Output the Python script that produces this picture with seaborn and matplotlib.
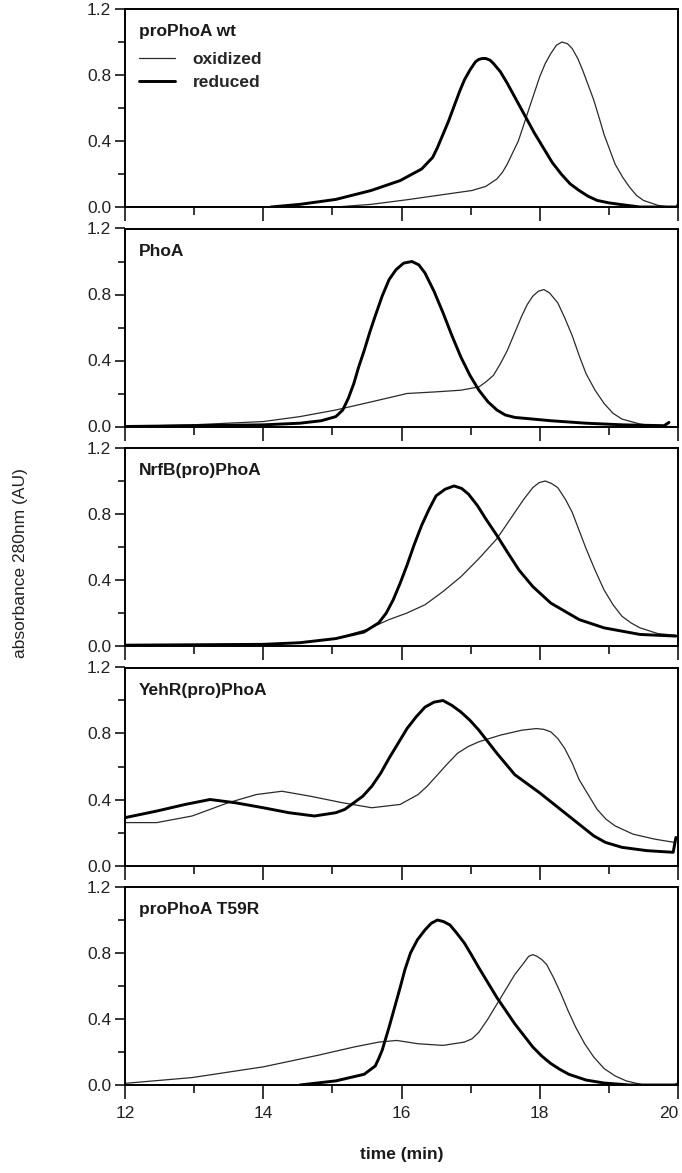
import numpy as np
import pandas as pd
import matplotlib
matplotlib.use("Agg")
import matplotlib.pyplot as plt
import seaborn as sns
from matplotlib.ticker import MultipleLocator, FormatStrFormatter
from matplotlib.lines import Line2D

sns.set_style("ticks")
plt.rcParams['font.family'] = ['Liberation Sans', 'DejaVu Sans']

panel_names = ["proPhoA wt", "PhoA", "NrfB(pro)PhoA", "YehR(pro)PhoA", "proPhoA T59R"]
x_ticks = [12, 14, 16, 18, 20]
x_tick_labels = ["12", "14", "16", "18", "20"]

# ---- panel 1: proPhoA wt ----
wt_ox_t = [12.0, 15.05, 15.56, 16.08, 16.6, 17.02, 17.22, 17.38, 17.46, 17.53, 17.61, 17.69, 17.77,
           17.84, 17.92, 18.0, 18.08, 18.16, 18.24, 18.32, 18.40, 18.47, 18.55, 18.62, 18.70, 18.78,
           18.86, 18.93, 19.01, 19.09, 19.2, 19.3, 19.4, 19.5, 19.71, 19.87, 19.97, 20.0]
wt_ox_y = [0.0, 0.0, 0.016, 0.044, 0.075, 0.10, 0.125, 0.17, 0.21, 0.26, 0.33, 0.40, 0.50,
           0.59, 0.69, 0.79, 0.87, 0.93, 0.98, 1.0, 0.99, 0.96, 0.90, 0.83, 0.74, 0.65,
           0.54, 0.44, 0.35, 0.26, 0.18, 0.12, 0.07, 0.04, 0.01, 0.0, 0.0, 0.025]
wt_red_t = [14.11, 14.53, 15.05, 15.56, 15.98, 16.29, 16.45, 16.52, 16.6, 16.68, 16.76, 16.84, 16.91,
            16.99, 17.07, 17.12, 17.17, 17.22, 17.28, 17.33, 17.43, 17.53, 17.66, 17.79, 17.92,
            18.05, 18.18, 18.31, 18.44, 18.57, 18.7, 18.83, 19.0, 19.19, 19.45, 20.0]
wt_red_y = [0.0, 0.016, 0.046, 0.10, 0.16, 0.23, 0.30, 0.36, 0.44, 0.52, 0.61, 0.70, 0.77,
            0.83, 0.88, 0.895, 0.90, 0.90, 0.89, 0.87, 0.82, 0.75, 0.65, 0.55, 0.45,
            0.36, 0.27, 0.20, 0.14, 0.10, 0.065, 0.04, 0.025, 0.014, 0.0, 0.0]

# ---- panel 2: PhoA ----
phoa_ox_t = [12.0, 12.97, 14.0, 14.53, 15.05, 15.57, 16.08, 16.5, 16.86, 17.12, 17.22, 17.33, 17.43,
             17.53, 17.64, 17.74, 17.82, 17.9, 17.98, 18.06, 18.14, 18.2, 18.26, 18.36, 18.47,
             18.57, 18.67, 18.8, 18.93, 19.06, 19.19, 19.45, 19.71, 19.9]
phoa_ox_y = [0.0, 0.01, 0.03, 0.06, 0.10, 0.15, 0.20, 0.21, 0.22, 0.24, 0.27, 0.31, 0.38,
             0.46, 0.57, 0.67, 0.74, 0.79, 0.82, 0.83, 0.81, 0.78, 0.75, 0.66, 0.55,
             0.43, 0.32, 0.22, 0.14, 0.08, 0.045, 0.015, 0.0, 0.0]
phoa_red_t = [12.0, 14.0, 14.53, 14.84, 15.05, 15.15, 15.23, 15.31, 15.38, 15.46, 15.54, 15.62, 15.72,
              15.82, 15.92, 16.03, 16.15, 16.25, 16.34, 16.47, 16.6, 16.73, 16.86, 16.99, 17.12,
              17.25, 17.38, 17.5, 17.64, 18.16, 18.67, 19.2, 19.8, 19.87]
phoa_red_y = [0.0, 0.01, 0.02, 0.035, 0.06, 0.10, 0.17, 0.26, 0.36, 0.46, 0.57, 0.67, 0.79,
              0.89, 0.95, 0.99, 1.0, 0.98, 0.93, 0.82, 0.69, 0.55, 0.42, 0.31, 0.22,
              0.15, 0.10, 0.07, 0.055, 0.035, 0.02, 0.01, 0.005, 0.025]

# ---- panel 3: NrfB(pro)PhoA ----
nrfb_ox_t = [12.0, 14.0, 14.53, 15.05, 15.5, 15.82, 16.08, 16.34, 16.6, 16.86, 17.12, 17.38, 17.51,
             17.64, 17.77, 17.9, 17.99, 18.08, 18.17, 18.26, 18.37, 18.47, 18.57, 18.67, 18.8,
             18.93, 19.06, 19.19, 19.32, 19.45, 19.71, 19.97]
nrfb_ox_y = [0.005, 0.01, 0.02, 0.045, 0.10, 0.16, 0.20, 0.25, 0.33, 0.42, 0.53, 0.65, 0.73,
             0.81, 0.89, 0.96, 0.99, 1.0, 0.985, 0.96, 0.89, 0.81, 0.70, 0.59, 0.46,
             0.34, 0.25, 0.18, 0.14, 0.11, 0.075, 0.065]
nrfb_red_t = [12.0, 14.0, 14.53, 15.05, 15.46, 15.67, 15.78, 15.88, 15.98, 16.08, 16.18, 16.29, 16.4,
              16.5, 16.63, 16.76, 16.87, 16.97, 17.1, 17.22, 17.38, 17.53, 17.7, 17.9, 18.16,
              18.57, 18.93, 19.45, 19.97]
nrfb_red_y = [0.005, 0.01, 0.02, 0.045, 0.085, 0.14, 0.20, 0.28, 0.38, 0.49, 0.61, 0.73, 0.83,
              0.91, 0.95, 0.97, 0.955, 0.92, 0.85, 0.77, 0.67, 0.57, 0.46, 0.36, 0.26,
              0.16, 0.11, 0.07, 0.06]

# ---- panel 4: YehR(pro)PhoA ----
yehr_ox_t = [12.0, 12.46, 12.97, 13.49, 13.9, 14.27, 14.68, 15.15, 15.57, 15.98, 16.24, 16.37, 16.5,
             16.65, 16.81, 16.96, 17.12, 17.43, 17.74, 17.95, 18.06, 18.16, 18.26, 18.36, 18.47,
             18.57, 18.7, 18.83, 18.96, 19.09, 19.35, 19.66, 19.95]
yehr_ox_y = [0.26, 0.26, 0.30, 0.38, 0.43, 0.45, 0.42, 0.38, 0.35, 0.37, 0.43, 0.48, 0.54,
             0.61, 0.68, 0.72, 0.75, 0.79, 0.82, 0.83, 0.825, 0.81, 0.77, 0.71, 0.62,
             0.52, 0.43, 0.34, 0.28, 0.24, 0.19, 0.16, 0.14]
yehr_red_t = [12.0, 12.46, 12.87, 13.23, 13.6, 14.0, 14.37, 14.74, 15.05, 15.18, 15.31, 15.44, 15.57,
              15.7, 15.82, 15.95, 16.08, 16.21, 16.34, 16.47, 16.6, 16.73, 16.86, 16.99, 17.12,
              17.38, 17.64, 18.0, 18.42, 18.6, 18.78, 18.95, 19.19, 19.55, 19.93, 19.97]
yehr_red_y = [0.29, 0.33, 0.37, 0.40, 0.38, 0.35, 0.32, 0.30, 0.32, 0.34, 0.38, 0.42, 0.48,
              0.56, 0.65, 0.74, 0.83, 0.90, 0.96, 0.99, 1.0, 0.97, 0.93, 0.88, 0.82,
              0.68, 0.55, 0.44, 0.30, 0.24, 0.18, 0.14, 0.11, 0.09, 0.08, 0.17]

# ---- panel 5: proPhoA T59R ----
t59_ox_t = [12.0, 12.97, 14.0, 14.79, 15.31, 15.67, 15.93, 16.24, 16.6, 16.91, 17.02, 17.12, 17.25,
            17.38, 17.51, 17.64, 17.77, 17.84, 17.9, 17.96, 18.03, 18.1, 18.2, 18.31, 18.41,
            18.52, 18.65, 18.78, 18.93, 19.09, 19.25, 19.4, 19.5, 19.95, 20.0]
t59_ox_y = [0.01, 0.045, 0.11, 0.18, 0.23, 0.26, 0.27, 0.25, 0.24, 0.26, 0.28, 0.32, 0.40,
            0.49, 0.58, 0.67, 0.74, 0.78, 0.79, 0.78, 0.76, 0.73, 0.65, 0.55, 0.45,
            0.35, 0.25, 0.17, 0.10, 0.055, 0.025, 0.01, 0.0, 0.0, 0.015]
t59_red_t = [14.53, 15.05, 15.46, 15.62, 15.67, 15.72, 15.77, 15.82, 15.9, 15.98, 16.05, 16.13, 16.23,
             16.34, 16.43, 16.52, 16.61, 16.7, 16.8, 16.91, 17.01, 17.12, 17.25, 17.38, 17.51,
             17.64, 17.77, 17.9, 18.03, 18.16, 18.29, 18.42, 18.67, 18.93, 19.3, 20.0]
t59_red_y = [0.0, 0.025, 0.065, 0.115, 0.16, 0.21, 0.28, 0.35, 0.47, 0.59, 0.70, 0.80, 0.88,
             0.94, 0.98, 1.0, 0.99, 0.97, 0.92, 0.86, 0.79, 0.71, 0.62, 0.53, 0.45,
             0.37, 0.30, 0.23, 0.175, 0.13, 0.095, 0.065, 0.03, 0.012, 0.0, 0.0]

series = [
    (wt_ox_t, wt_ox_y, wt_red_t, wt_red_y),
    (phoa_ox_t, phoa_ox_y, phoa_red_t, phoa_red_y),
    (nrfb_ox_t, nrfb_ox_y, nrfb_red_t, nrfb_red_y),
    (yehr_ox_t, yehr_ox_y, yehr_red_t, yehr_red_y),
    (t59_ox_t, t59_ox_y, t59_red_t, t59_red_y),
]

W, H = 682, 1173
fig = plt.figure(figsize=(W / 100, H / 100), dpi=100)

left_px, right_px = 125, 678
top0, ph, period = 9, 198, 219.5

axes = []
for i, (name, (ox_t, ox_y, red_t, red_y)) in enumerate(zip(panel_names, series)):
    top = top0 + i * period
    ax = fig.add_axes([left_px / W, 1 - (top + ph) / H, (right_px - left_px) / W, ph / H])
    axes.append(ax)
    d_ox = pd.DataFrame({"time": ox_t, "abs": ox_y})
    d_red = pd.DataFrame({"time": red_t, "abs": red_y})
    sns.lineplot(data=d_ox, x="time", y="abs", ax=ax, color="#2a2a2a", linewidth=0.9,
                 estimator=None, sort=False)
    sns.lineplot(data=d_red, x="time", y="abs", ax=ax, color="black", linewidth=2.1,
                 estimator=None, sort=False)
    ax.set_xlim(12, 20)
    ax.set_ylim(0, 1.2)
    ax.set_xlabel("")
    ax.set_ylabel("")
    ax.set_xticks(x_ticks)
    ax.xaxis.set_minor_locator(MultipleLocator(1))
    ax.yaxis.set_major_locator(MultipleLocator(0.4))
    ax.yaxis.set_minor_locator(MultipleLocator(0.2))
    ax.yaxis.set_major_formatter(FormatStrFormatter("%.1f"))
    ax.tick_params(axis="x", which="major", direction="out", length=10, width=1.3)
    ax.tick_params(axis="x", which="minor", direction="out", length=6, width=1.3)
    ax.tick_params(axis="y", which="major", direction="out", length=7, width=1.3,
                   labelsize=12.5, labelcolor="#222222", pad=3)
    ax.tick_params(axis="y", which="minor", direction="out", length=5, width=1.3)
    for s in ax.spines.values():
        s.set_linewidth(1.4)
        s.set_color("black")
    if i < 4:
        ax.tick_params(axis="x", labelbottom=False)
    else:
        ax.set_xticklabels(x_tick_labels)
        ax.tick_params(axis="x", labelsize=12.5, labelcolor="#222222", pad=5)
        # keep the last label ("20") inside the figure edge
        ax.get_xticklabels()[-1].set_horizontalalignment("right")
    ax.text(0.025, 0.885, name, transform=ax.transAxes, fontsize=12.5,
            fontweight="bold", va="center", ha="left", color="#1a1a1a")

# legend in the first panel
handles = [Line2D([], [], color="#2a2a2a", linewidth=0.9),
           Line2D([], [], color="black", linewidth=2.1)]
axes[0].legend(handles, ["oxidized", "reduced"], loc="upper left",
               bbox_to_anchor=(0.0, 0.855), frameon=False,
               prop={"weight": "bold", "size": 12.5}, handlelength=2.1,
               handletextpad=1.0, labelspacing=0.45, borderaxespad=0.4)

fig.text(21 / W, 1 - 563 / H, "absorbance 280nm (AU)", rotation=90, ha="center",
         va="center", fontsize=12.5, color="#222222")
fig.text((left_px + right_px) / 2 / W, 1 - 1155 / H, "time (min)", ha="center",
         va="center", fontsize=12.5, fontweight="bold", color="#1a1a1a")

fig.savefig("out.png", dpi=100)
